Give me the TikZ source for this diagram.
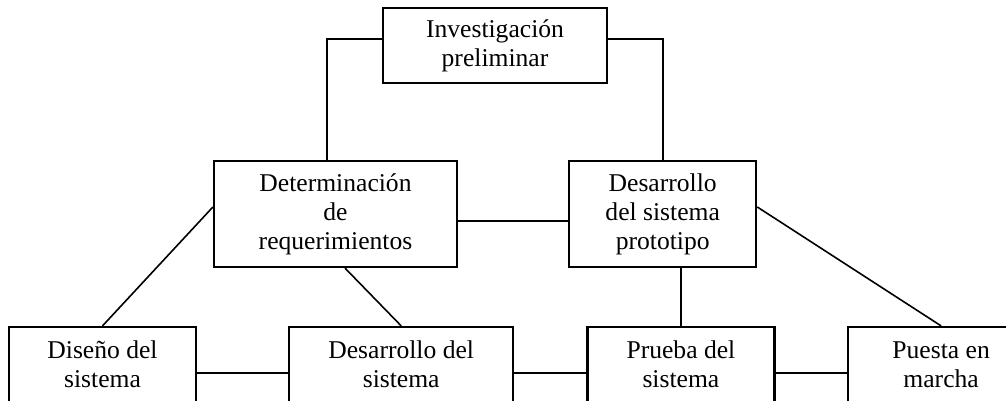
\documentclass[tikz,border=0pt]{standalone}
\usepackage{fontspec}
\setmainfont{Liberation Serif}
\usetikzlibrary{positioning}

\begin{document}
\begin{tikzpicture}[
    x=0.5pt, y=-0.5pt,
    box/.style={draw, rectangle, line width=1.1pt, minimum width=93.5pt, minimum height=37.5pt, align=center, font=\fontsize{12.8}{14.5}\selectfont},
    tall/.style={minimum height=53pt},
    link/.style={line width=0.8pt}
]
    \clip (0,0) rectangle (1006,401);

    % Top
    \node[box, minimum width=112pt] (inv) at (495,45.5) {Investigación\\preliminar};

    % Middle row
    \node[box, tall, minimum width=121.5pt] (det) at (335.5,214) {Determinación\\de\\requerimientos};
    \node[box, tall, right=55pt of det] (proto) {Desarrollo\\del sistema\\prototipo};

    % Bottom row
    \node[box] (diseno) at (102.5,364.5) {Diseño del\\sistema};
    \node[box, minimum width=112pt, right=45.5pt of diseno] (desa) {Desarrollo del\\sistema};
    \node[box, right=36pt of desa] (prueba) {Prueba del\\sistema};
    \node[box, right=35.5pt of prueba] (puesta) {Puesta en\\marcha};

    % Connections
    \draw[link] ([yshift=3.25pt]inv.west) -| ([xshift=-4.25pt]det.north);
    \draw[link] ([yshift=3.25pt]inv.east) -| (proto.north);
    \draw[link] ([yshift=-3.5pt]det.east) -- ([yshift=-3.5pt]proto.west);
    \draw[link] ([yshift=3.5pt]det.west) -- (diseno.north);
    \draw[link] ([xshift=4.75pt]det.south) -- (desa.north);
    \draw[link] (prueba.north |- proto.south) -- (prueba.north);
    \draw[link] ([yshift=3.5pt]proto.east) -- (puesta.north);
    \draw[link] ([yshift=-4.25pt]diseno.east) -- ([yshift=-4.25pt]desa.west);
    \draw[link] ([yshift=-4.25pt]desa.east) -- ([yshift=-4.25pt]prueba.west);
    \draw[link] ([yshift=-4.25pt]prueba.east) -- ([yshift=-4.25pt]puesta.west);
\end{tikzpicture}
\end{document}
